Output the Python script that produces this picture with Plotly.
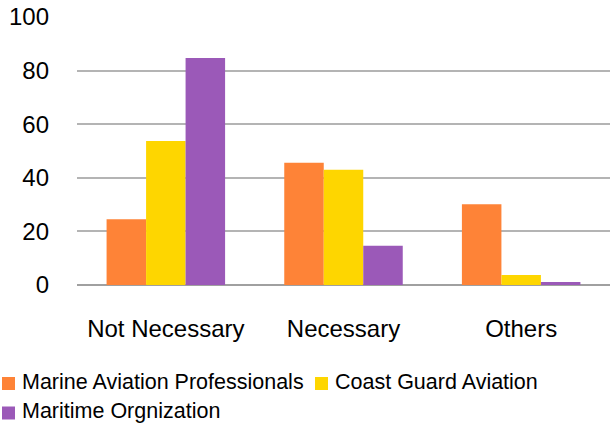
import plotly.graph_objects as go

# Survey responses (%) by group
categories = ["Not Necessary", "Necessary", "Others"]
series_names = ["Marine Aviation Professionals", "Coast Guard Aviation", "Maritime Orgnization"]
marine_aviation = [24.5, 45.6, 30.1]
coast_guard = [53.7, 43.0, 3.7]
maritime_org = [84.7, 14.6, 1.1]
colors = ["#FE8337", "#FED600", "#9B59B8"]
y_ticks = [0, 20, 40, 60, 80, 100]

FONT = "Liberation Sans, Arial, sans-serif"
W, H = 610, 424
ML, MB, MT = 77, 139, 17
PW, PH = W - ML, H - MB - MT


def px_x(x):
    return (x - ML) / PW


def px_y(y):
    return (H - MB - y) / PH


fig = go.Figure()
for name, vals, col in zip(series_names, [marine_aviation, coast_guard, maritime_org], colors):
    fig.add_trace(go.Bar(name=name, x=categories, y=vals, marker_color=col,
                         marker_line_width=0, showlegend=False))

# Legend drawn as swatches + labels, laid out in two rows under the axis
legend_items = [
    (0, 2, 383.5),
    (1, 315, 383.5),
    (2, 2, 413),
]
for idx, x0, yc in legend_items:
    fig.add_shape(type="rect", xref="paper", yref="paper",
                  x0=px_x(x0), x1=px_x(x0 + 13),
                  y0=px_y(yc + 6.5), y1=px_y(yc - 6.5),
                  fillcolor=colors[idx], line_width=0)
    fig.add_annotation(text=series_names[idx], xref="paper", yref="paper",
                       x=px_x(x0 + 18), y=px_y(yc - 2),
                       xanchor="left", yanchor="middle", showarrow=False,
                       font=dict(size=21.5, color="#000000", family=FONT))

fig.update_layout(
    width=W, height=H,
    margin=dict(l=ML, r=0, t=MT, b=MB),
    barmode="group", bargap=0.333, bargroupgap=0,
    plot_bgcolor="white", paper_bgcolor="white",
    font=dict(family=FONT, color="#000000"),
    showlegend=False,
)
fig.update_xaxes(showgrid=False, showline=False, ticks="",
                 tickfont=dict(size=24), ticklabelstandoff=27)
fig.update_yaxes(range=[0, 100], tickvals=y_ticks, showgrid=True,
                 gridcolor="#B4B4B4", gridwidth=2, zeroline=True,
                 zerolinecolor="#A0A0A0", zerolinewidth=2, showline=False,
                 ticks="", tickfont=dict(size=24), ticklabelstandoff=27)

fig.write_html("out.html")
